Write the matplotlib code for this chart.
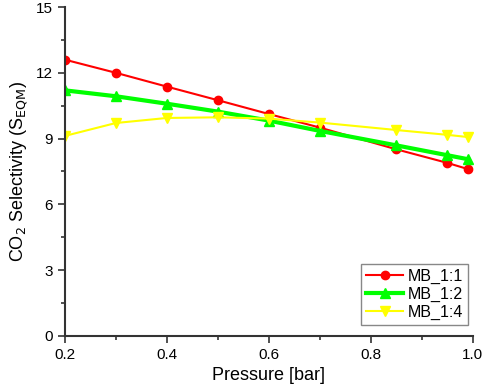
import matplotlib
matplotlib.use("Agg")
from matplotlib import pyplot as plt
from matplotlib.ticker import MultipleLocator

plt.rcParams["font.family"] = ["Liberation Sans", "DejaVu Sans"]

# Data
pressure = [0.2, 0.3, 0.4, 0.5, 0.6, 0.7, 0.85, 0.95, 0.99]
mb_1_1 = [12.6, 12.0, 11.37, 10.75, 10.12, 9.5, 8.51, 7.89, 7.61]
mb_1_2 = [11.2, 10.93, 10.59, 10.23, 9.82, 9.35, 8.69, 8.24, 8.06]
mb_1_4 = [9.12, 9.71, 9.94, 9.97, 9.91, 9.73, 9.39, 9.17, 9.07]

fig = plt.figure(figsize=(4.84, 3.91), dpi=100)
ax = fig.add_axes([0.134, 0.141, 0.843, 0.841])

ax.plot(pressure, mb_1_1, color="#ff0000", marker="o", markersize=6,
        linewidth=1.5, label="MB_1:1")
ax.plot(pressure, mb_1_2, color="#00ff00", marker="^", markersize=7,
        linewidth=3, label="MB_1:2")
ax.plot(pressure, mb_1_4, color="#ffff00", marker="v", markersize=7,
        linewidth=1.5, label="MB_1:4")

ax.set_xlim(0.2, 1.0)
ax.set_ylim(0, 15)
ax.xaxis.set_major_locator(MultipleLocator(0.2))
ax.xaxis.set_minor_locator(MultipleLocator(0.1))
ax.yaxis.set_major_locator(MultipleLocator(3))
ax.yaxis.set_minor_locator(MultipleLocator(1.5))

ax.spines["top"].set_visible(False)
ax.spines["right"].set_visible(False)
for side in ["left", "bottom"]:
    ax.spines[side].set_linewidth(1.5)
    ax.spines[side].set_color("#333333")
ax.tick_params(which="major", direction="out", length=5, width=1.2,
               color="#333333", labelsize=11)
ax.tick_params(which="minor", direction="out", length=3, width=1.2,
               color="#333333")

ax.set_xlabel("Pressure [bar]", fontsize=13)
ax.set_ylabel(r"CO$_2$ Selectivity (S$_{\mathrm{EQM}}$)", fontsize=13)

leg = ax.legend(loc="lower right", bbox_to_anchor=(0.988, 0.033),
                borderaxespad=0, fontsize=11.5, fancybox=False, framealpha=1,
                edgecolor="#888888", handlelength=2.3, borderpad=0.3,
                labelspacing=0.2, handletextpad=0.3)
leg.get_frame().set_linewidth(1)

fig.savefig("out.png", dpi=100)
